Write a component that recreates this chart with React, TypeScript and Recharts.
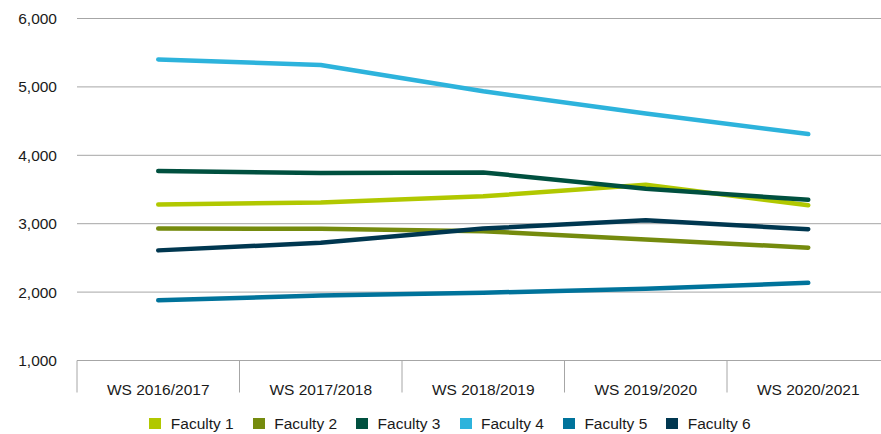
import React from "react"
import { LineChart, Line, XAxis, YAxis, CartesianGrid, Legend } from "recharts"

const categories = ["WS 2016/2017", "WS 2017/2018", "WS 2018/2019", "WS 2019/2020", "WS 2020/2021"]
const faculty1 = [3280, 3310, 3400, 3570, 3270]
const faculty2 = [2930, 2925, 2890, 2770, 2650]
const faculty3 = [3770, 3740, 3750, 3510, 3350]
const faculty4 = [5400, 5320, 4935, 4610, 4310]
const faculty5 = [1880, 1950, 1990, 2050, 2135]
const faculty6 = [2610, 2720, 2930, 3050, 2920]
const yTicks = [1000, 2000, 3000, 4000, 5000, 6000]

const seriesNames = ["Faculty 1", "Faculty 2", "Faculty 3", "Faculty 4", "Faculty 5", "Faculty 6"]
const seriesValues = [faculty1, faculty2, faculty3, faculty4, faculty5, faculty6]
const seriesColours = ["#b1c800", "#758b0e", "#00503f", "#2db3dc", "#00739b", "#003750"]

const data = categories.map((cat, i) => {
  const row: Record<string, string | number> = { cat }
  seriesNames.forEach((name, s) => {
    row[name] = seriesValues[s][i]
  })
  return row
})

const FONT = "'Liberation Sans', Arial, sans-serif"
const GRID = "#a6a6a6"
const CHART_W = 900
const CHART_H = 434
const Y_W = 77
const RIGHT = 10.5
const band = (CHART_W - Y_W - RIGHT) / categories.length

function CategoryTick(props: any) {
  const { x, y, payload } = props
  const left = x - band / 2
  return (
    <g>
      <line x1={left} y1={y} x2={left} y2={y + 32} stroke={GRID} strokeWidth={1} />
      {payload.index === categories.length - 1 && (
        <line x1={x + band / 2} y1={y} x2={x + band / 2} y2={y + 32} stroke={GRID} strokeWidth={1} />
      )}
      <text x={x} y={y + 34} textAnchor="middle" fontSize={15.5} fontFamily={FONT} fill="#1a1a1a">
        {payload.value}
      </text>
    </g>
  )
}

function LegendContent() {
  return (
    <div
      style={{
        display: "flex",
        justifyContent: "center",
        alignItems: "center",
        marginTop: 23,
        height: 12,
        fontFamily: FONT,
        fontSize: 15.5,
        color: "#1a1a1a",
      }}
    >
      {seriesNames.map((name, i) => (
        <div
          key={name}
          style={{
            display: "flex",
            alignItems: "center",
            marginRight: i < seriesNames.length - 1 ? 19 : 0,
          }}
        >
          <span style={{ display: "inline-block", width: 12, height: 11, background: seriesColours[i], marginRight: 9.5 }} />
          <span style={{ lineHeight: "12px", whiteSpace: "nowrap" }}>{name}</span>
        </div>
      ))}
    </div>
  )
}

export default function App() {
  return (
    <div style={{ position: "absolute", left: 0, top: 0, width: 881, height: 434, overflow: "hidden", background: "#fff" }}>
      <LineChart
        width={CHART_W}
        height={CHART_H}
        data={data}
        margin={{ top: 18.5, right: RIGHT, bottom: 0, left: 0 }}
      >
        <CartesianGrid vertical={false} stroke={GRID} strokeWidth={1} />
        <XAxis
          dataKey="cat"
          interval={0}
          height={34}
          padding={{ left: band / 2, right: band / 2 }}
          axisLine={{ stroke: GRID }}
          tickLine={false}
          tickSize={0}
          tickMargin={0}
          tick={<CategoryTick />}
        />
        <YAxis
          domain={[1000, 6000]}
          ticks={yTicks}
          width={Y_W}
          axisLine={false}
          tickLine={false}
          tickSize={0}
          tickMargin={20}
          tickFormatter={(v: number) => v.toLocaleString("en-US")}
          tick={{ fontSize: 15.5, fontFamily: FONT, fill: "#1a1a1a" }}
        />
        <Legend
          verticalAlign="bottom"
          height={39.5}
          wrapperStyle={{ left: 0, width: CHART_W }}
          content={<LegendContent />}
        />
        {seriesNames.map((name, i) => (
          <Line
            key={name}
            type="linear"
            dataKey={name}
            stroke={seriesColours[i]}
            strokeWidth={4.5}
            strokeLinecap="round"
            strokeLinejoin="round"
            dot={false}
            activeDot={false}
            isAnimationActive={false}
          />
        ))}
      </LineChart>
    </div>
  )
}
